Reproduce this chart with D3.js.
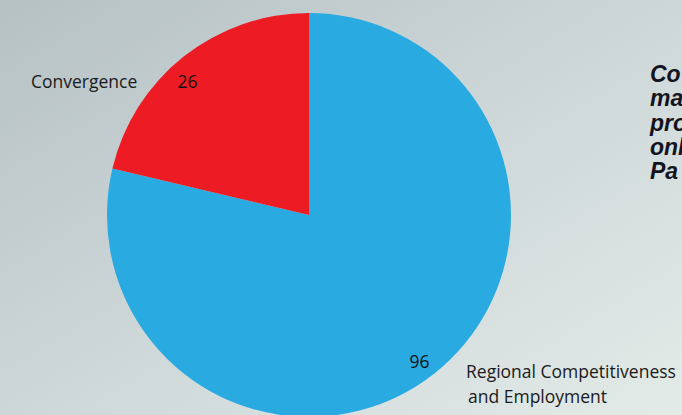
<!DOCTYPE html>
<html>
<head>
<meta charset="utf-8">
<script src="https://cdn.jsdelivr.net/npm/d3@7"></script>
<style>
  html, body { margin: 0; padding: 0; overflow: hidden; }
  svg { display: block; }
</style>
</head>
<body>
<svg id="chart"></svg>
<script>
// data
const categories = ["Regional Competitiveness and Employment", "Convergence"];
const values = [96, 26];
const colors = ["#29abe2", "#ed1c24"];
const sideText = ["Co", "ma", "pro", "onl", "Pa"];

const W = 682, H = 415;
const cx = 309, cy = 215, R = 202;
const labelFont = "'Open Sans', sans-serif";

const svg = d3.select("#chart")
  .attr("width", W)
  .attr("height", H);

// background gradient
const defs = svg.append("defs");
const grad = defs.append("linearGradient")
  .attr("id", "bg")
  .attr("x1", "0").attr("y1", "0")
  .attr("x2", "1").attr("y2", "1");
grad.append("stop").attr("offset", "0").attr("stop-color", "#b6c1c4");
grad.append("stop").attr("offset", "0.5").attr("stop-color", "#cdd7d8");
grad.append("stop").attr("offset", "1").attr("stop-color", "#e3ebe8");

svg.append("rect")
  .attr("width", W).attr("height", H)
  .attr("fill", "url(#bg)");

// pie
const pie = d3.pie().sort(null).value(d => d);
const arc = d3.arc().innerRadius(0).outerRadius(R);
const arcs = pie(values);

const g = svg.append("g")
  .attr("transform", `translate(${cx},${cy})`);

g.selectAll("path")
  .data(arcs)
  .enter().append("path")
  .attr("d", arc)
  .attr("fill", (d, i) => colors[i]);

// value labels near the rim
const labelArc = d3.arc().innerRadius(183).outerRadius(183);
const nudge = [[-3, 3], [-8, 10]];

g.selectAll(".val")
  .data(arcs)
  .enter().append("text")
  .attr("class", "val")
  .attr("x", (d, i) => labelArc.centroid(d)[0] + nudge[i][0])
  .attr("y", (d, i) => labelArc.centroid(d)[1] + nudge[i][1])
  .attr("dy", "0.35em")
  .attr("text-anchor", "middle")
  .attr("font-family", labelFont)
  .attr("font-size", 17.5)
  .attr("fill", "#111")
  .text(d => d.data);

// category labels
svg.append("text")
  .attr("x", 31).attr("y", 88)
  .attr("font-family", labelFont)
  .attr("font-size", 17.5)
  .attr("fill", "#1a1a1a")
  .text(categories[1]);

const rce = svg.append("text")
  .attr("font-family", labelFont)
  .attr("font-size", 17.5)
  .attr("fill", "#1a1a1a");
rce.append("tspan").attr("x", 466).attr("y", 378).text("Regional Competitiveness");
rce.append("tspan").attr("x", 468).attr("y", 403).text("and Employment");

// side text, cut by the right edge
svg.append("g")
  .selectAll("text")
  .data(sideText)
  .enter().append("text")
  .attr("x", 650)
  .attr("y", (d, i) => 82 + i * 24.3)
  .attr("font-family", "'Liberation Sans', Arial, sans-serif")
  .attr("font-size", 23)
  .attr("font-weight", "bold")
  .attr("font-style", "italic")
  .attr("fill", "#14141e")
  .text(d => d);
</script>
</body>
</html>
